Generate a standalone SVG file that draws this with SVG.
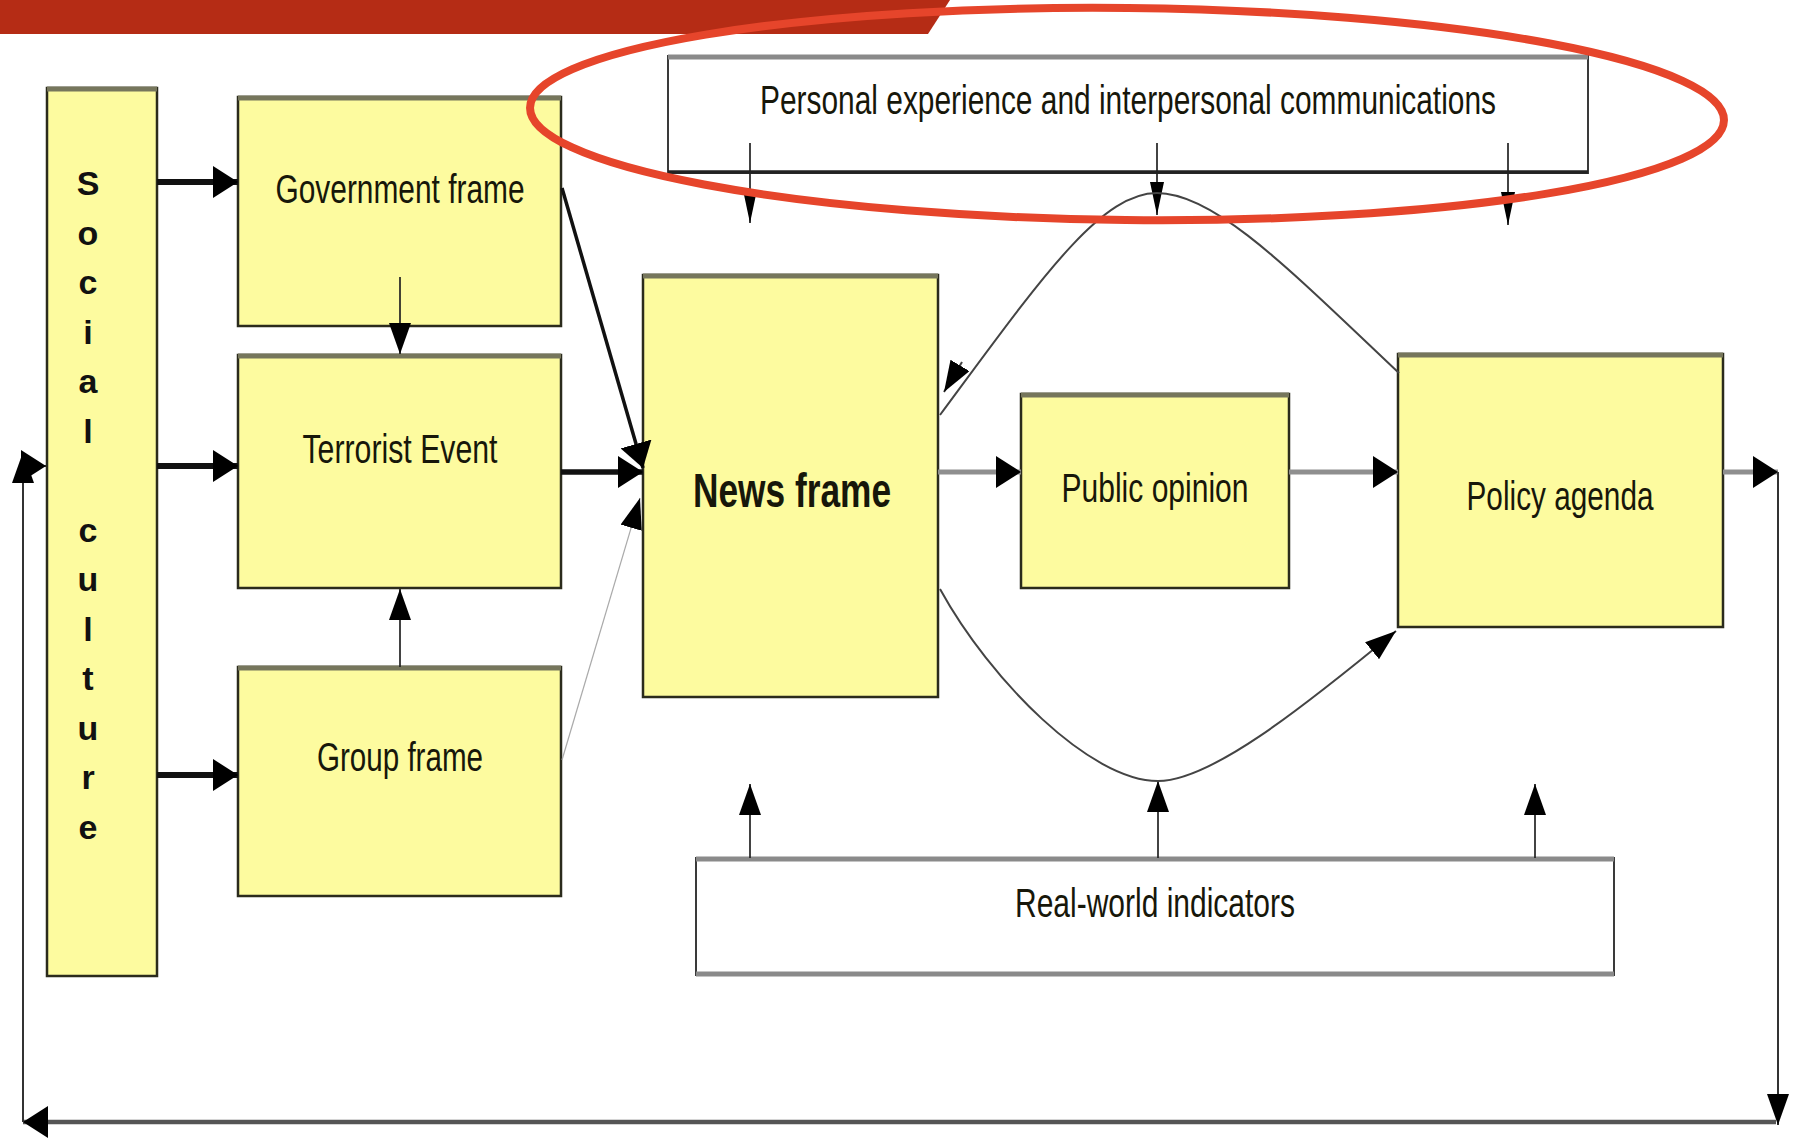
<svg xmlns="http://www.w3.org/2000/svg" width="1794" height="1139" viewBox="0 0 1794 1139">
<style>
.box{fill:#FDFB9F;stroke:#2b2b1c;stroke-width:2.5}
.wbox{fill:#ffffff;stroke:#3a3a3a;stroke-width:2}
.top{stroke:#76765c;stroke-width:5}
.wtop{stroke:#8a8a8a;stroke-width:5}
.wbot{stroke:#222;stroke-width:3.5}
.lbl{font-family:"Liberation Sans",Arial,sans-serif;font-size:41px;fill:#17170a;text-anchor:middle}
.bold{font-weight:bold}
.vert{font-family:"Liberation Sans",Arial,sans-serif;font-size:34px;font-weight:bold;fill:#111;text-anchor:middle}
.thick{stroke:#111;stroke-width:6;fill:none}
.gray{stroke:#8f8f8f;stroke-width:5;fill:none}
.thin{stroke:#222;stroke-width:1.7;fill:none}
.curve{stroke:#444;stroke-width:2;fill:none}
</style>
<defs>
<marker id="big" markerUnits="userSpaceOnUse" markerWidth="26" markerHeight="32" refX="25" refY="16" orient="auto"><path d="M0,0 L25,16 L0,32 z" fill="#000"/></marker>
<marker id="mid" markerUnits="userSpaceOnUse" markerWidth="32" markerHeight="22" refX="31" refY="11" orient="auto"><path d="M0,0 L31,11 L0,22 z" fill="#000"/></marker>
<marker id="narrow" markerUnits="userSpaceOnUse" markerWidth="34" markerHeight="14" refX="33" refY="7" orient="auto"><path d="M0,0 L33,7 L0,14 z" fill="#000"/></marker>
</defs>
<rect width="1794" height="1139" fill="#fff"/>
<polygon points="0,0 950,0 928,34 0,34" fill="#B52C15"/>

<g id="social-culture">
<rect class="box" x="47" y="88" width="110" height="888"/>
<line class="top" x1="47" y1="89" x2="157" y2="89"/>
<text class="vert"><tspan x="88" y="195">S</tspan><tspan x="88" y="245">o</tspan><tspan x="88" y="294">c</tspan><tspan x="88" y="344">i</tspan><tspan x="88" y="393">a</tspan><tspan x="88" y="443">l</tspan><tspan x="88" y="542">c</tspan><tspan x="88" y="591">u</tspan><tspan x="88" y="641">l</tspan><tspan x="88" y="690">t</tspan><tspan x="88" y="740">u</tspan><tspan x="88" y="789">r</tspan><tspan x="88" y="839">e</tspan></text>
</g>
<g id="government-frame">
<rect class="box" x="238" y="97" width="323" height="229"/>
<line class="top" x1="238" y1="98" x2="561" y2="98"/>
<text class="lbl" x="400" y="203" textLength="249" lengthAdjust="spacingAndGlyphs">Government frame</text>
</g>
<g id="terrorist-event">
<rect class="box" x="238" y="355" width="323" height="233"/>
<line class="top" x1="238" y1="356" x2="561" y2="356"/>
<text class="lbl" x="400" y="463" textLength="195" lengthAdjust="spacingAndGlyphs">Terrorist Event</text>
</g>
<g id="group-frame">
<rect class="box" x="238" y="667" width="323" height="229"/>
<line class="top" x1="238" y1="668" x2="561" y2="668"/>
<text class="lbl" x="400" y="771" textLength="166" lengthAdjust="spacingAndGlyphs">Group frame</text>
</g>
<g id="news-frame">
<rect class="box" x="643" y="275" width="295" height="422"/>
<line class="top" x1="643" y1="276" x2="938" y2="276"/>
<text class="lbl bold" x="792" y="507" font-size="48" style="font-size:48px" textLength="198" lengthAdjust="spacingAndGlyphs">News frame</text>
</g>
<g id="public-opinion">
<rect class="box" x="1021" y="394" width="268" height="194"/>
<line class="top" x1="1021" y1="395" x2="1289" y2="395"/>
<text class="lbl" x="1155" y="502" textLength="187" lengthAdjust="spacingAndGlyphs">Public opinion</text>
</g>
<g id="policy-agenda">
<rect class="box" x="1398" y="354" width="325" height="273"/>
<line class="top" x1="1398" y1="355" x2="1723" y2="355"/>
<text class="lbl" x="1560" y="510" textLength="187" lengthAdjust="spacingAndGlyphs">Policy agenda</text>
</g>
<g id="personal-experience">
<rect class="wbox" x="668" y="56" width="920" height="117"/>
<line class="wtop" x1="668" y1="57" x2="1588" y2="57"/>
<line class="wbot" x1="668" y1="172" x2="1588" y2="172"/>
<text class="lbl" x="1128" y="114" style="font-size:40px" textLength="736" lengthAdjust="spacingAndGlyphs">Personal experience and interpersonal communications</text>
</g>
<g id="real-world-indicators">
<rect class="wbox" x="696" y="858" width="918" height="117"/>
<line class="wtop" x1="696" y1="859" x2="1614" y2="859"/>
<line class="wtop" x1="696" y1="974" x2="1614" y2="974"/>
<text class="lbl" x="1155" y="917" textLength="280" lengthAdjust="spacingAndGlyphs">Real-world indicators</text>
</g>

<g id="connectors">
<path class="thick" d="M157,182 L238,182" marker-end="url(#big)"/>
<path class="thick" d="M157,466 L238,466" marker-end="url(#big)"/>
<path class="thick" d="M157,775 L238,775" marker-end="url(#big)"/>
<path class="thin" d="M400,277 L400,354" marker-end="url(#mid)"/>
<path class="thin" d="M400,667 L400,589" marker-end="url(#mid)"/>
<path d="M562,188 L643,468" stroke="#111" stroke-width="3.5" fill="none" marker-end="url(#big)"/>
<path d="M561,472 L643,472" stroke="#111" stroke-width="5.5" fill="none" marker-end="url(#big)"/>
<path d="M562,760 L640,498" stroke="#aaa" stroke-width="1.2" fill="none" marker-end="url(#mid)"/>
<path class="gray" d="M938,472 L1021,472" marker-end="url(#big)"/>
<path class="gray" d="M1289,472 L1398,472" marker-end="url(#big)"/>
<path class="gray" d="M1723,472 L1778,472" marker-end="url(#big)"/>
<path d="M1778,472 L1778,1125" stroke="#333" stroke-width="2" fill="none" marker-end="url(#mid)"/>
<path d="M1776,1122 L23,1122" stroke="#555" stroke-width="4.5" fill="none" marker-end="url(#big)"/>
<path d="M23,1122 L23,452" stroke="#333" stroke-width="2" fill="none" marker-end="url(#mid)"/>
<path d="M24,466 L46,466" stroke="#333" stroke-width="2" fill="none" marker-end="url(#big)"/>
<path class="thin" d="M750,143 L750,223" marker-end="url(#narrow)"/>
<path class="thin" d="M1157,143 L1157,215" marker-end="url(#narrow)"/>
<path class="thin" d="M1508,143 L1508,225" marker-end="url(#narrow)"/>
<path class="thin" d="M750,858 L750,784" marker-end="url(#mid)"/>
<path class="thin" d="M1158,858 L1158,781" marker-end="url(#mid)"/>
<path class="thin" d="M1535,858 L1535,784" marker-end="url(#mid)"/>
<path class="curve" d="M940,415 C1040,280 1100,193 1157,193 C1215,193 1290,270 1399,373"/>
<path class="curve" d="M962,362 L944,392" marker-end="url(#mid)"/>
<path class="curve" d="M940,589 C990,680 1090,781 1158,781 C1210,781 1300,710 1396,631" marker-end="url(#mid)"/>
</g>

<ellipse cx="1127" cy="114" rx="597" ry="106" transform="rotate(0.6 1127 114)" fill="none" stroke="#E6452B" stroke-width="8"/>
</svg>
